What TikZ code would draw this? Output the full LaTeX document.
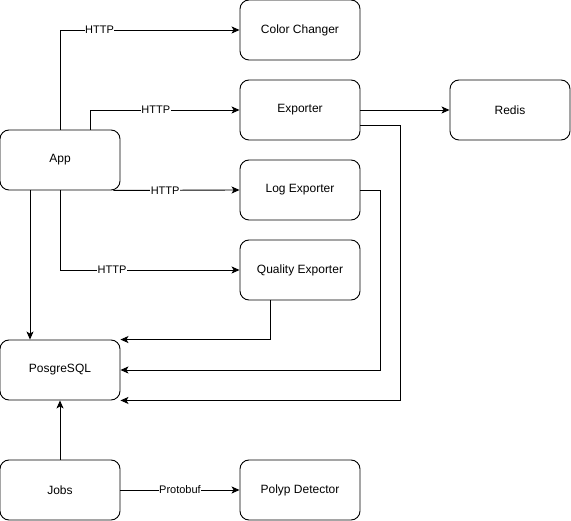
\documentclass[tikz,border=0pt]{standalone}
\usepackage{fontspec}
\setmainfont{Liberation Sans}
\usetikzlibrary{arrows.meta}
\begin{document}
\begin{tikzpicture}[x=1pt,y=-1pt,
        box/.style={draw, rounded corners=9pt, line width=0.9pt, minimum width=120pt, minimum height=60pt, font=\fontsize{12}{14}\selectfont},
        arr/.style={line width=0.9pt, -{Stealth[length=8pt,width=7pt,inset=2pt]}},
        lbl/.style={fill=white, inner sep=0.5pt, font=\fontsize{11}{13}\selectfont}]
    \useasboundingbox (0,0) rectangle (571,521);
    % services
    \node[box] (cc) at (300,30) {Color Changer};
    \node[box] (exp) at (300,110) {Exporter};
    \node[box] (redis) at (510,110) {Redis};
    \node[box] (app) at (60,160) {App};
    \node[box] (log) at (300,190) {Log Exporter};
    \node[box] (qe) at (300,270) {Quality Exporter};
    \node[box] (pg) at (60,370) {PosgreSQL};
    \node[box] (jobs) at (60,490) {Jobs};
    \node[box] (pd) at (300,490) {Polyp Detector};
    % app calls
    \draw[arr] (app.north) |- (cc.west) node[lbl, pos=0.61] {HTTP};
    \draw[arr] ([xshift=30pt]app.north) |- (exp.west) node[lbl, pos=0.72] {HTTP};
    \draw[arr] ([xshift=-7pt]app.south east) -- (log.west) node[lbl, pos=0.41] {HTTP};
    \draw[arr] (app.south) |- (qe.west) node[lbl, pos=0.645] {HTTP};
    \draw[arr] ([xshift=-30pt]app.south) -- ([xshift=-30pt]pg.north);
    % writes to the database
    \draw[arr] ([xshift=-30pt]qe.south) |- (pg.north east);
    \draw[arr] (log.east) -- (380,190) |- (pg.east);
    \draw[arr] ([yshift=-15pt]exp.east) -- (400,125) |- (pg.south east);
    \draw[arr] (exp.east) -- (redis.west);
    \draw[arr] (jobs.north) -- (pg.south);
    \draw[arr] (jobs.east) -- (pd.west) node[lbl, pos=0.5] {Protobuf};
\end{tikzpicture}
\end{document}
